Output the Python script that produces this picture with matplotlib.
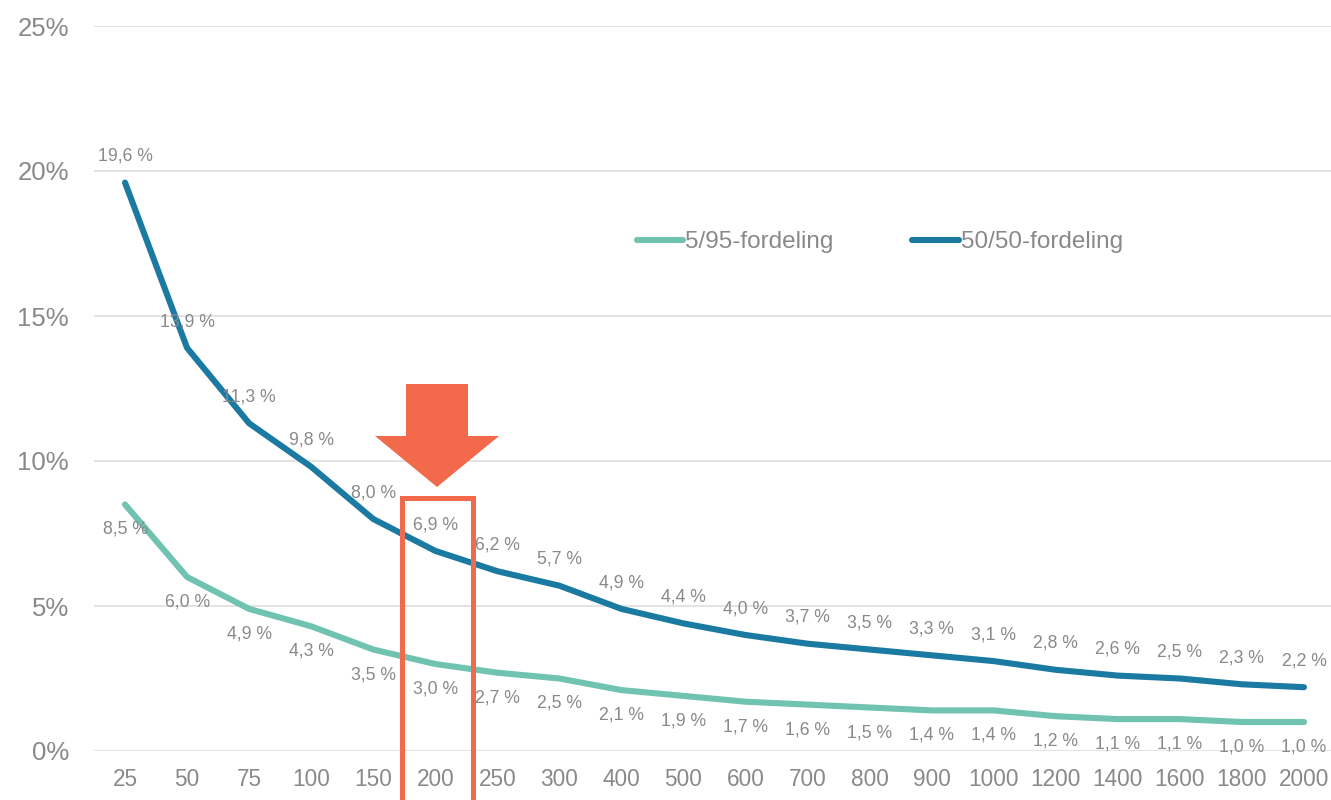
import matplotlib
matplotlib.use("Agg")
import matplotlib.pyplot as plt
from matplotlib.patches import Polygon, Rectangle

plt.rcParams['font.family'] = ['Liberation Sans', 'DejaVu Sans']

categories = ["25", "50", "75", "100", "150", "200", "250", "300", "400", "500",
              "600", "700", "800", "900", "1000", "1200", "1400", "1600", "1800", "2000"]
series_5_95 = [8.5, 6.0, 4.9, 4.3, 3.5, 3.0, 2.7, 2.5, 2.1, 1.9,
               1.7, 1.6, 1.5, 1.4, 1.4, 1.2, 1.1, 1.1, 1.0, 1.0]
series_50_50 = [19.6, 13.9, 11.3, 9.8, 8.0, 6.9, 6.2, 5.7, 4.9, 4.4,
                4.0, 3.7, 3.5, 3.3, 3.1, 2.8, 2.6, 2.5, 2.3, 2.2]
y_ticks = [0, 5, 10, 15, 20, 25]
label_5_95 = "5/95-fordeling"
label_50_50 = "50/50-fordeling"

W, H = 1331, 800
GREY = "#898989"
C_LIGHT = "#6FC3B0"
C_DARK = "#1B7AA1"
RED = "#F2694B"

fig = plt.figure(figsize=(W / 100, H / 100), dpi=100)
ax = fig.add_axes([94 / W, 49 / H, (W - 94) / W, (751 - 26) / H])

x = list(range(len(categories)))
l1, = ax.plot(x, series_5_95, color=C_LIGHT, lw=4.4, solid_capstyle='round',
              solid_joinstyle='round', label=label_5_95, zorder=3)
l2, = ax.plot(x, series_50_50, color=C_DARK, lw=4.4, solid_capstyle='round',
              solid_joinstyle='round', label=label_50_50, zorder=3)

def fmt(v):
    return f"{v:.1f}".replace(".", ",") + " %"

for xi, v in zip(x, series_50_50):
    ax.annotate(fmt(v), (xi, v), xytext=(0, 19), textcoords='offset points',
                ha='center', va='center', fontsize=12.7, color=GREY, zorder=4)
for xi, v in zip(x, series_5_95):
    ax.annotate(fmt(v), (xi, v), xytext=(0, -18), textcoords='offset points',
                ha='center', va='center', fontsize=12.7, color=GREY, zorder=4)

ax.set_xlim(-0.5, -0.5 + (W - 94) / 62.05)
ax.set_ylim(0, 25)
ax.set_yticks(y_ticks)
ax.set_yticklabels([f"{t}%" for t in y_ticks])
ax.set_xticks(x)
ax.set_xticklabels(categories)
ax.tick_params(axis='y', length=0, pad=18, labelsize=18.5, labelcolor=GREY)
ax.tick_params(axis='x', length=0, pad=12, labelsize=16.3, labelcolor=GREY)
ax.grid(axis='y', color="#DEDEDE", lw=1.2)
ax.set_axisbelow(True)
for s in ax.spines.values():
    s.set_visible(False)

fig.legend(handles=[l1, l2], loc='center left',
           bbox_to_anchor=(637 / W, 1 - 242 / H), bbox_transform=fig.transFigure,
           ncol=2, frameon=False, fontsize=17.5, labelcolor=GREY,
           handlelength=1.9, handletextpad=0.08, columnspacing=3.25,
           borderpad=0, borderaxespad=0)

def P(px, py):
    return (px / W, 1 - py / H)

arrow = [P(406, 384), P(468, 384), P(468, 436), P(499, 436), P(437, 487),
         P(375, 436), P(406, 436)]
fig.patches.append(Polygon(arrow, closed=True, facecolor=RED, edgecolor='none',
                           transform=fig.transFigure, zorder=5))
fig.patches.append(Rectangle(P(401.5, 820), (472.5 - 401.5) / W, (820 - 498.5) / H,
                             fill=False, edgecolor=RED, lw=3.6,
                             transform=fig.transFigure, zorder=5))

fig.savefig("out.png", dpi=100)
